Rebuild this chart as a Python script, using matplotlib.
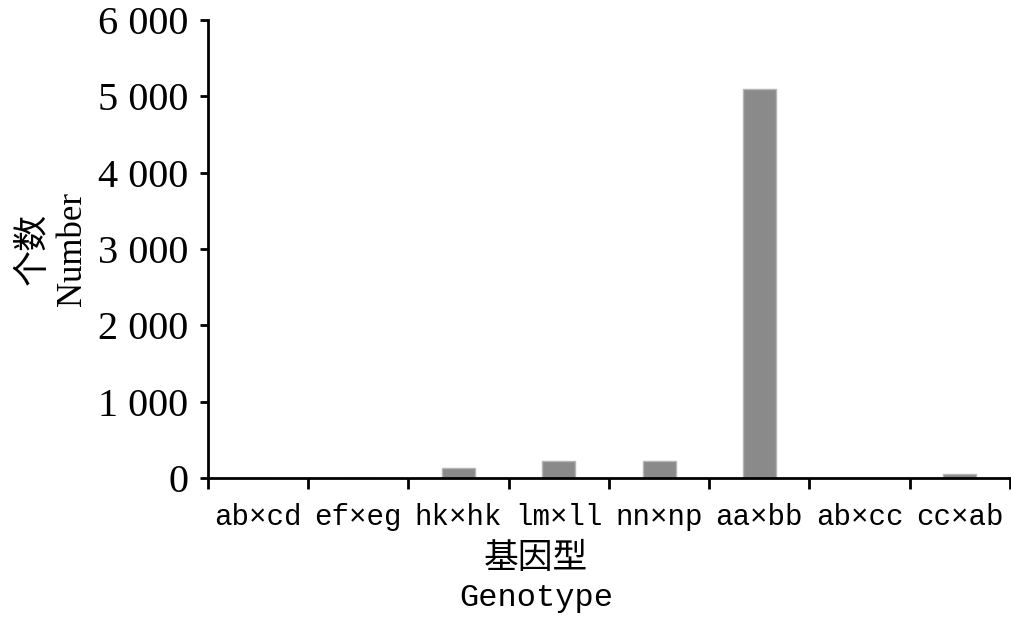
import matplotlib
matplotlib.use('Agg')
import matplotlib.pyplot as plt
import numpy as np
from matplotlib.ticker import FuncFormatter

genotypes = ['ab×cd', 'ef×eg', 'hk×hk', 'lm×ll', 'nn×np', 'aa×bb', 'ab×cc', 'cc×ab']
counts = [0, 0, 130, 220, 220, 5100, 0, 50]

serif = ['Liberation Serif', 'Noto Sans CJK SC']
mono = ['Liberation Mono', 'DejaVu Sans Mono', 'Noto Sans CJK SC']

fig = plt.figure(figsize=(10.12, 6.26), dpi=100)
ax = fig.add_axes([0.2055, 0.2364, 0.7925, 0.7316])

x = np.arange(len(genotypes))
ax.bar(x, counts, width=0.33, color='#8a8a8a', edgecolor='#b5b5b5', linewidth=1)

ax.set_xlim(-0.5, len(genotypes) - 0.5)
ax.set_ylim(0, 6000)

for s in ['top', 'right']:
    ax.spines[s].set_visible(False)
for s in ['left', 'bottom']:
    ax.spines[s].set_linewidth(2)
    ax.spines[s].set_color('black')

ax.set_yticks(np.arange(0, 6001, 1000))
ax.yaxis.set_major_formatter(FuncFormatter(lambda v, p: f'{int(v):,}'.replace(',', ' ')))
ax.tick_params(axis='y', direction='out', length=6, width=2, pad=8)
for lab in ax.get_yticklabels():
    lab.set_family(serif)
    lab.set_fontsize(29)

# category boundaries carry the tick marks, labels sit at the centres
ax.set_xticks(np.arange(-0.5, len(genotypes), 1))
ax.set_xticklabels([])
ax.set_xticks(x, minor=True)
ax.set_xticklabels(genotypes, minor=True, family=mono, fontsize=21)
ax.tick_params(axis='x', which='major', direction='out', length=8, width=2)
ax.tick_params(axis='x', which='minor', length=0, pad=18)

ax.text(0.409, -0.178, '基因型', transform=ax.transAxes, ha='center', va='center',
        family=serif, fontsize=25)
ax.text(0.409, -0.263, 'Genotype', transform=ax.transAxes, ha='center', va='center',
        family=mono, fontsize=23)

fig.text(34 / 1012, 1 - 249 / 626, '个数', rotation=90, ha='center', va='center',
         family=serif, fontsize=26)
fig.text(72 / 1012, 1 - 249 / 626, 'Number', rotation=90, ha='center', va='center',
         family=serif, fontsize=25)

fig.savefig('out.png', dpi=100)
